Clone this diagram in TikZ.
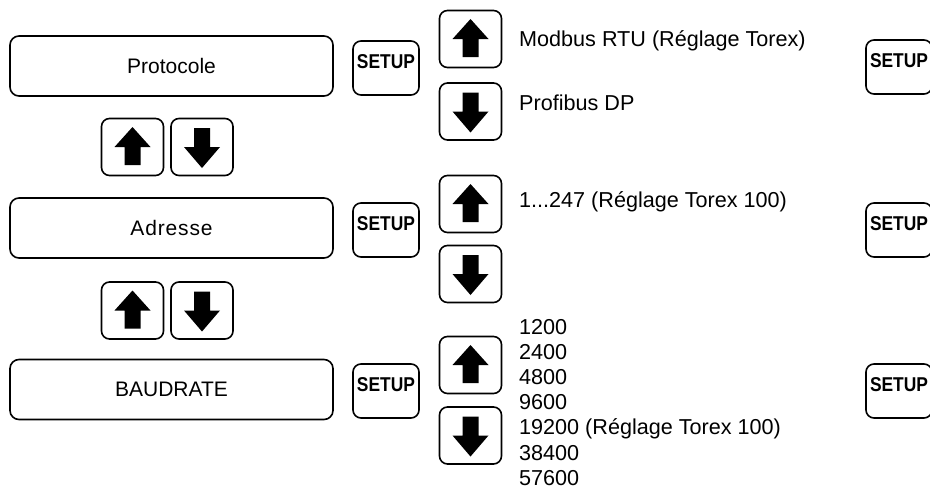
\documentclass[tikz,border=0pt]{standalone}
\usepackage{fontspec}
\setmainfont{Liberation Sans}
\usepackage{graphicx}
\tikzset{
    disp/.style = {draw, line width=1.6pt, rounded corners=9pt, minimum width=323pt, minimum height=60pt, inner sep=0pt, font=\fontsize{21}{25}\selectfont},
    btn/.style = {draw, line width=1.6pt, rounded corners=8pt, minimum width=62pt, minimum height=57pt, inner sep=0pt},
    setupbtn/.style = {draw, line width=1.6pt, rounded corners=8pt, minimum width=66pt, inner sep=0pt, text height=27pt, text depth=27pt, font=\fontsize{20}{24}\selectfont\bfseries},
    val/.style = {anchor=base west, inner sep=0pt, font=\fontsize{21.6}{25}\selectfont},
    upa/.pic = {\fill (0,-20) -- (18,0) -- (8,0) -- (8,18) -- (-8,18) -- (-8,0) -- (-18,0) -- cycle;},
    downa/.pic = {\fill (0,21) -- (18,0) -- (8,0) -- (8,-19) -- (-8,-19) -- (-8,0) -- (-18,0) -- cycle;}
}

\begin{document}
\begin{tikzpicture}[x=1pt, y=-1pt]
\clip (0,0) rectangle (930,488);

% Menu column
\node[disp] (proto) at (171.5, 66) {Protocole};
\node[disp] (addr) at (171.5, 228) {\addfontfeature{LetterSpace=4}Adresse};
\node[disp] (baud) at (171.5, 389.5) {BAUDRATE};

% Up/down between menus
\node[btn] (mu1) at (132.5, 147) {};
\node[btn] (md1) at (202, 147) {};
\node[btn] (mu2) at (132.5, 310.5) {};
\node[btn] (md2) at (202, 310.5) {};
\pic at (mu1) {upa};
\pic at (md1) {downa};
\pic at (mu2) {upa};
\pic at (md2) {downa};

% SETUP keys
\node[setupbtn] (s1) at (386, 68) {\scalebox{0.87}[1]{SETUP}};
\node[setupbtn] (s2) at (386, 230) {\scalebox{0.87}[1]{SETUP}};
\node[setupbtn] (s3) at (386, 391) {\scalebox{0.87}[1]{SETUP}};

% Value keys
\node[btn] (vu1) at (470.5, 39) {};
\node[btn] (vd1) at (470.5, 111.5) {};
\node[btn] (vu2) at (470.5, 204) {};
\node[btn] (vd2) at (470.5, 274) {};
\node[btn] (vu3) at (470.5, 365) {};
\node[btn] (vd3) at (470.5, 435.5) {};
\foreach \k in {1,2,3} {
    \pic at (vu\k) {upa};
    \pic at (vd\k) {downa};
}

% Values
\node[val] (modbus) at (519, 46) {Modbus RTU (Réglage Torex)};
\node[val] (profi) at (519, 110) {Profibus DP};
\node[val] (range) at (519, 207) {1...247 (Réglage Torex 100)};
\foreach \v [count=\i from 0] in {1200,2400,4800,9600,19200 (Réglage Torex 100),38400,57600}
    \node[val] (b\i) at (519, {334+25.2*\i}) {\v};

% SETUP keys, right side
\node[setupbtn] (r1) at (899, 67) {\scalebox{0.87}[1]{SETUP}};
\node[setupbtn] (r2) at (899, 230) {\scalebox{0.87}[1]{SETUP}};
\node[setupbtn] (r3) at (899, 391) {\scalebox{0.87}[1]{SETUP}};
\end{tikzpicture}
\end{document}
